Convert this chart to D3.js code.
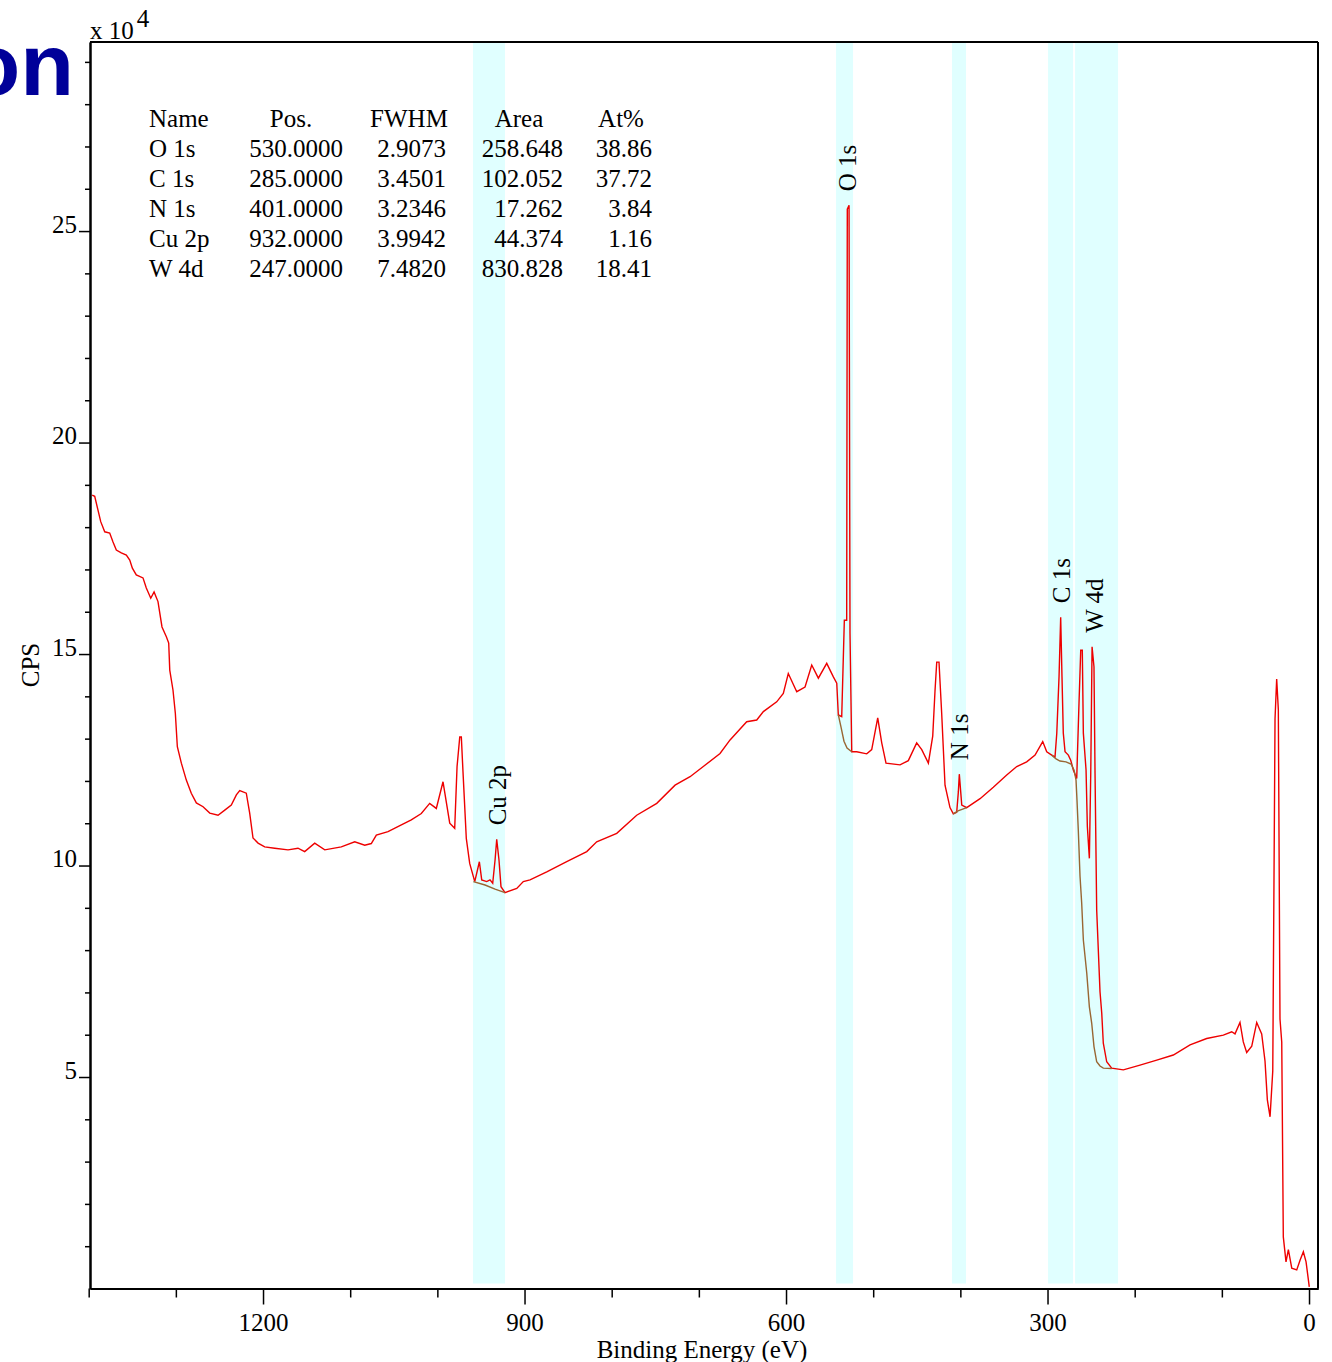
<!DOCTYPE html>
<html><head><meta charset="utf-8">
<script src="https://cdn.jsdelivr.net/npm/d3@7"></script>
<style>html,body{margin:0;padding:0;background:#fff;overflow:hidden}svg{display:block}</style>
</head><body>
<script>
// ---------- DATA ----------
// Survey spectrum: [binding energy (eV), CPS]
const spectrum = [
[1396.0,187600],[1393.1,187300],[1386.2,181300],[1381.6,178900],[1375.9,178600],[1372.1,176500],
[1368.3,174600],[1362.6,173900],[1356.8,173400],[1352.9,172200],[1349.9,170300],[1345.4,168700],
[1337.7,168000],[1333.9,165600],[1328.8,163200],[1325.0,164700],[1320.5,162400],[1315.9,156400],
[1310.9,154100],[1308.2,152600],[1307.0,146200],[1303.3,141500],[1300.6,136000],[1298.3,128100],
[1293.7,124200],[1288.0,120200],[1282.3,117100],[1276.5,114800],[1268.8,113900],[1261.1,112400],
[1251.6,111900],[1243.9,113100],[1236.4,114300],[1230.6,116700],[1226.7,117700],[1219.2,117100],
[1215.3,112400],[1211.5,106500],[1205.7,105300],[1198.1,104400],[1186.6,104100],[1171.3,103700],
[1159.9,104100],[1152.2,103300],[1140.7,105300],[1129.2,103700],[1110.2,104400],[1094.8,105600],
[1083.3,104800],[1075.8,105200],[1070.0,107200],[1056.6,108000],[1041.3,109600],[1029.9,110800],
[1018.4,112300],[1008.8,114700],[1001.2,113500],[993.5,119800],[985.8,110000],[980.1,108800],
[977.4,123400],[974.3,130400],[972.5,130400],[970.6,122200],[966.8,106400],[962.9,100500],
[957.1,96200],[951.8,100900],[949.1,96600],[943.4,96200],[939.6,96600],[936.5,95800],
[933.8,101300],[931.9,106200],[929.3,101300],[927.0,95000],[922.4,93600],[908.9,94600],
[901.4,96200],[893.7,96600],[874.5,98500],[851.6,100900],[828.6,103300],[817.2,105600],
[794.2,107600],[771.3,111900],[748.3,114700],[727.3,119000],[710.1,121000],[694.9,123400],
[675.7,126500],[664.2,129700],[645.1,134000],[633.6,134400],[626.0,136400],[610.7,138700],
[603.1,140700],[597.4,145400],[587.7,141100],[578.2,142200],[570.5,147400],[562.9,144300],
[553.3,147800],[545.7,144600],[541.8,143100],[540.0,135600],[536.1,135200],[533.1,158000],
[530.4,158000],[529.7,255200],[527.7,256100],[526.6,155000],[524.6,126900],[518.9,126900],
[507.4,126400],[501.7,127400],[494.8,134900],[490.2,129000],[485.3,124200],[469.2,123800],
[459.7,124800],[450.1,129000],[444.3,127400],[436.7,124200],[431.7,130600],[429.1,141200],
[427.1,148100],[424.5,148100],[421.4,135900],[417.6,119000],[411.9,113700],[408.1,112200],
[404.2,112600],[402.3,117400],[401.2,121600],[398.4,114300],[392.7,113700],[377.4,115800],
[362.2,118500],[346.8,121400],[335.3,123400],[323.9,124500],[314.3,126100],[305.5,129300],
[300.9,126900],[295.2,126100],[291.4,125700],[289.4,131200],[286.8,144600],[284.9,158700],
[283.4,144600],[281.9,131300],[279.9,126900],[276.1,126100],[273.4,124900],[270.4,122600],
[266.5,120600],[263.9,138300],[261.9,150900],[260.1,150900],[258.9,131300],[255.8,122600],
[254.3,109200],[252.0,101700],[250.4,121900],[248.9,151700],[246.7,147000],[245.5,121900],
[243.6,89500],[239.8,70200],[237.8,65100],[236.0,58000],[232.1,53600],[226.4,52100],
[213.0,51700],[193.9,52800],[174.7,54000],[155.7,55200],[136.5,57600],[117.4,59100],
[98.3,59900],[88.7,60700],[84.9,60200],[79.2,62900],[75.4,58300],[71.5,55800],
[65.7,57300],[60.0,62900],[54.3,60200],[50.5,53800],[47.8,44600],[44.7,40600],
[41.6,51400],[39.0,134700],[37.1,144100],[35.2,136800],[33.3,63700],[31.3,58300],
[29.5,12200],[26.4,6300],[23.7,9200],[19.8,4800],[14.1,4400],[10.3,6700],
[6.5,8700],[3.4,6300],[-0.3,400]
];
// Fitted backgrounds under the quantified peaks
const bgCu = [[958.7,96200],[945.3,95400],[933.8,94400],[922.4,93600]];
const bgO  = [[540.0,135600],[536.9,132700],[533.5,129400],[530.0,127800],[524.6,126900]];
const bgN  = [[408.1,112200],[402.7,112900],[392.7,113700]];
const bgCW = [[295.2,126100],[290.2,125200],[285.7,124700],[278.8,124500],[273.0,124000],
  [269.6,122600],[267.3,120200],[266.2,115500],[264.7,108400],[262.7,97400],[260.8,91100],
  [258.9,82400],[255.0,74600],[252.0,66600],[249.3,62700],[246.7,57200],[243.6,53600],
  [239.8,52600],[236.0,52100],[226.4,52000]];

// Quantification table
const peakNames = ["O 1s","C 1s","N 1s","Cu 2p","W 4d"];
const peakPos   = [530, 285, 401, 932, 247];
const peakPosTxt= ["530.0000","285.0000","401.0000","932.0000","247.0000"];
const peakFWHM  = ["2.9073","3.4501","3.2346","3.9942","7.4820"];
const peakArea  = ["258.648","102.052","17.262","44.374","830.828"];
const peakAt    = ["38.86","37.72","3.84","1.16","18.41"];
// Integration regions (eV), same order as peakNames
const bandHigh  = [542.6, 299.4, 409.6, 959.1, 268.4];
const bandLow   = [523.1, 270.7, 393.5, 922.4, 219.1];

const xMajorTicks = [1200, 900, 600, 300, 0];
const xMinorTicks = [1400, 1300, 1100, 1000, 800, 700, 500, 400, 200, 100];
const yMajorTicks = [5, 10, 15, 20, 25];           // x 10^4
const yMinorTicks = [1,2,3,4,6,7,8,9,11,12,13,14,16,17,18,19,21,22,23,24,26,27,28,29];

// ---------- DRAW ----------
const W = 1332, H = 1362;
const L = 90, R = 1318, T = 42, B = 1288.5;
const FONT = "'Liberation Serif','Times New Roman',serif";

const svg = d3.select("body").append("svg").attr("width", W).attr("height", H);

const x = d3.scaleLinear().domain([1398.5, -10.3]).range([L, R]);
const y = d3.scaleLinear().domain([0, 294700]).range([B, T]);

// blue title fragment
svg.append("text").attr("x", 74).attr("y", 95)
  .attr("text-anchor", "end")
  .attr("font-family", "'Liberation Sans',Arial,sans-serif")
  .attr("font-weight", "bold").attr("font-size", 88)
  .attr("fill", "#000099").text("on");

// bands
const bands = peakNames.map((n, i) => ({name: n, hi: bandHigh[i], lo: bandLow[i], pos: peakPos[i]}));
svg.append("g").selectAll("rect").data(bands).join("rect")
  .attr("x", d => x(d.hi)).attr("width", d => x(d.lo) - x(d.hi))
  .attr("y", T).attr("height", (B - 5) - T)
  .attr("fill", "#e0ffff");

// table
const tbl = svg.append("g").attr("font-family", FONT).attr("font-size", 25).attr("fill", "#000");
const headers = [["Name",149,"start"],["Pos.",291,"middle"],["FWHM",409,"middle"],["Area",519,"middle"],["At%",621,"middle"]];
headers.forEach(h => tbl.append("text").attr("x", h[1]).attr("y", 127).attr("text-anchor", h[2]).text(h[0]));
const cols = [[peakNames,149,"start"],[peakPosTxt,343,"end"],[peakFWHM,446,"end"],[peakArea,563,"end"],[peakAt,652,"end"]];
cols.forEach(c => {
  tbl.selectAll(null).data(c[0]).join("text")
    .attr("x", c[1]).attr("y", (d, i) => 157 + i * 30)
    .attr("text-anchor", c[2]).text(d => d);
});

// spectrum
const line = d3.line().x(d => x(d[0])).y(d => y(d[1]));
svg.append("path").datum(spectrum).attr("d", line)
  .attr("fill", "none").attr("stroke", "#ee0000").attr("stroke-width", 1.4)
  .attr("stroke-linejoin", "miter");
[bgCu, bgO, bgN, bgCW].forEach(bg => {
  svg.append("path").datum(bg).attr("d", line)
    .attr("fill", "none").attr("stroke", "#996633").attr("stroke-width", 1.4);
});

// peak labels above max inside each band
const lbl = svg.append("g").attr("font-family", FONT).attr("font-size", 25).attr("fill", "#000");
bands.forEach(b => {
  const inside = spectrum.filter(p => p[0] <= b.hi && p[0] >= b.lo);
  const mx = d3.max(inside, p => p[1]);
  const px = x(b.pos), py = y(mx) - 14;
  lbl.append("text")
    .attr("transform", `translate(${px},${py}) rotate(-90)`)
    .attr("dy", "0.36em").attr("text-anchor", "start").text(b.name);
});

// axes
const axStyle = g => {
  g.attr("font-family", FONT).attr("font-size", 25);
  g.selectAll("line").attr("stroke", "#000").attr("stroke-width", 1.5);
  g.selectAll("text").attr("fill", "#000");
  g.select(".domain").attr("stroke", "#000").attr("stroke-width", 2);
};
const yMinor = svg.append("g").attr("transform", `translate(${L},0)`)
  .call(d3.axisLeft(y).tickValues(yMinorTicks.map(v => v * 1e4)).tickSize(5).tickSizeOuter(0).tickFormat(""));
yMinor.call(axStyle);
const yMajor = svg.append("g").attr("transform", `translate(${L},0)`)
  .call(d3.axisLeft(y).tickValues(yMajorTicks.map(v => v * 1e4)).tickSize(11).tickSizeOuter(0).tickPadding(2).tickFormat(d => d / 1e4));
yMajor.call(axStyle);
yMajor.selectAll("text").attr("dy", "0.04em");

const xMinor = svg.append("g").attr("transform", `translate(0,${B})`)
  .call(d3.axisBottom(x).tickValues(xMinorTicks).tickSize(9).tickSizeOuter(0).tickFormat(""));
xMinor.call(axStyle);
const xMajor = svg.append("g").attr("transform", `translate(0,${B})`)
  .call(d3.axisBottom(x).tickValues(xMajorTicks).tickSize(16).tickSizeOuter(0).tickPadding(9).tickFormat(d3.format("d")));
xMajor.call(axStyle);

// frame top / right
svg.append("line").attr("x1", L).attr("x2", R).attr("y1", T).attr("y2", T).attr("stroke", "#000").attr("stroke-width", 2);
svg.append("line").attr("x1", R).attr("x2", R).attr("y1", T).attr("y2", B).attr("stroke", "#000").attr("stroke-width", 2);

// axis titles
const exp = svg.append("text").attr("x", 90).attr("y", 39)
  .attr("font-family", FONT).attr("font-size", 25).attr("fill", "#000").text("x 10");
exp.append("tspan").attr("dy", -12).attr("dx", 3).text("4");

svg.append("text").attr("transform", `translate(30,665) rotate(-90)`)
  .attr("text-anchor", "middle").attr("dy", "0.36em")
  .attr("font-family", FONT).attr("font-size", 25).attr("fill", "#000").text("CPS");

svg.append("text").attr("x", 702).attr("y", 1358)
  .attr("text-anchor", "middle")
  .attr("font-family", FONT).attr("font-size", 25).attr("fill", "#000").text("Binding Energy (eV)");
</script>
</body></html>
